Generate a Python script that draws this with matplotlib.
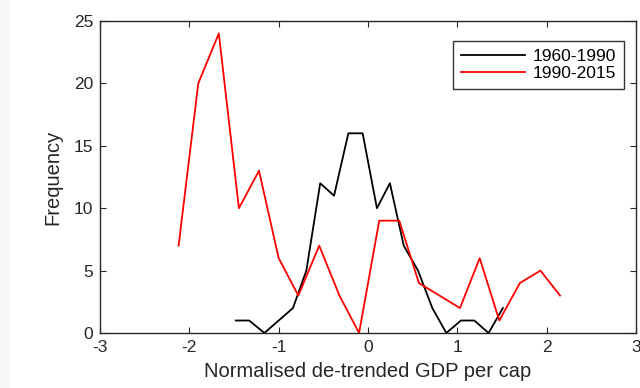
import matplotlib
matplotlib.use('Agg')
from matplotlib import pyplot as plt

# bin centres and counts
x1960 = [-1.48, -1.33, -1.16, -1.00, -0.84, -0.69, -0.535, -0.38, -0.22, -0.06,
         0.10, 0.245, 0.40, 0.56, 0.72, 0.877, 1.04, 1.19, 1.35, 1.51]
freq1960 = [1, 1, 0, 1, 2, 5, 12, 11, 16, 16, 10, 12, 7, 5, 2, 0, 1, 1, 0, 2]

x1990 = [-2.12, -1.90, -1.67, -1.445, -1.22, -1.00, -0.78, -0.546, -0.32, -0.10,
         0.126, 0.35, 0.57, 0.80, 1.03, 1.25, 1.47, 1.70, 1.93, 2.15]
freq1990 = [7, 20, 24, 10, 13, 6, 3, 7, 3, 0, 9, 9, 4, 3, 2, 6, 1, 4, 5, 3]

xticks = [-3, -2, -1, 0, 1, 2, 3]
yticks = [0, 5, 10, 15, 20, 25]

plt.rcParams['font.family'] = ['Liberation Sans', 'DejaVu Sans']
textColor = '#262626'

fig = plt.figure(figsize=(6.4, 3.88), dpi=100)
# light grey strip on the far left of the original screenshot
fig.patches.append(plt.Rectangle((0, 0), 9 / 640, 1, transform=fig.transFigure,
                                 color='#f7f7f7', zorder=0))
ax = fig.add_axes([100 / 640, 1 - 333 / 388, 536 / 640, 312 / 388])

ax.plot(x1960, freq1960, color='black', lw=1.3, label='1960-1990')
ax.plot(x1990, freq1990, color='#ff0000', lw=1.3, label='1990-2015')

ax.set_xlim(-3, 3)
ax.set_ylim(0, 25)
ax.set_xticks(xticks)
ax.set_yticks(yticks)
ax.set_xticklabels([str(t) for t in xticks])
ax.tick_params(direction='in', top=True, right=True, length=4, width=0.8,
               labelsize=12.5, colors=textColor, pad=5)
for s in ax.spines.values():
    s.set_color(textColor)
    s.set_linewidth(1.0)

ax.set_xlabel('Normalised de-trended GDP per cap', fontsize=14.5, color=textColor, labelpad=5)
ax.set_ylabel('Frequency', fontsize=14.5, color=textColor, labelpad=8)

leg = ax.legend(loc='upper right', bbox_to_anchor=(624 / 640, 1 - 41 / 388),
                bbox_transform=fig.transFigure, fontsize=12.5, frameon=True,
                fancybox=False, handlelength=3.7, borderpad=0.45, labelspacing=0.12,
                handletextpad=0.45, borderaxespad=0)
leg.get_frame().set_edgecolor('black')
leg.get_frame().set_linewidth(1.0)

fig.savefig('out.png', dpi=100)
